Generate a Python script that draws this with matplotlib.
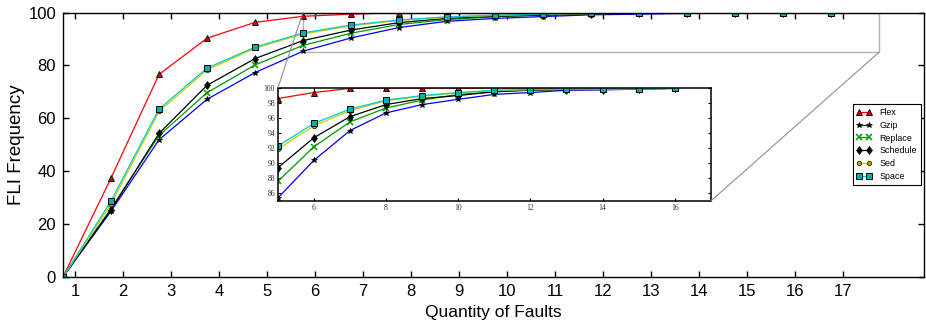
import matplotlib.pyplot as plt
import numpy as np
from matplotlib.patches import Rectangle, ConnectionPatch

plt.rcParams['font.family'] = ['Liberation Sans', 'DejaVu Sans']

# number of faults located (0..16) and FLI frequency per program
faults = np.arange(17)
tick_labels = [str(i) for i in range(1, 18)]

flex = [0, 37.4, 76.6, 90.3, 96.3, 98.6, 99.4, 99.95, 100, 100, 100, 100, 100, 100, 100, 100, 100]
gzip = [0, 24.9, 51.9, 67.2, 77.3, 85.4, 90.4, 94.35, 96.7, 97.8, 98.5, 99.15, 99.4, 99.7, 99.75, 99.85, 99.95]
replace = [0, 25.9, 53.5, 69.7, 80.2, 87.6, 92.2, 95.5, 97.35, 98.4, 99.15, 99.5, 99.75, 99.85, 99.85, 99.9, 99.95]
schedule = [0, 25.4, 54.3, 72.5, 82.6, 89.4, 93.4, 96.2, 97.8, 98.6, 99.0, 99.5, 99.7, 99.8, 99.8, 99.9, 99.95]
sed = [0, 27.5, 62.6, 78.3, 86.5, 91.9, 94.97, 97.0, 98.3, 98.9, 99.35, 99.65, 99.78, 99.85, 99.85, 99.9, 99.95]
space = [0, 28.7, 63.5, 79.0, 86.9, 92.3, 95.3, 97.2, 98.4, 99.0, 99.4, 99.7, 99.8, 99.85, 99.85, 99.9, 99.95]

series = [
    ('Flex', flex, dict(color='#ff0000', marker='^', mfc='#d00000', mec='black', ms=3.8, mew=0.6)),
    ('Gzip', gzip, dict(color='#0000ff', marker='*', mfc='black', mec='black', ms=4.2, mew=0.5)),
    ('Replace', replace, dict(color='#009a00', marker='x', mfc='#009a00', mec='#009a00', ms=3.8, mew=1.1)),
    ('Schedule', schedule, dict(color='black', marker='d', mfc='black', mec='black', ms=4.5, mew=0.4)),
    ('Sed', sed, dict(color='#cccc00', marker='o', mfc='#a8a800', mec='#333300', ms=3.2, mew=0.6)),
    ('Space', space, dict(color='#00cccc', marker='s', mfc='#00b0b0', mec='black', ms=4.0, mew=0.7)),
]

narrow = ['Liberation Sans Narrow', 'Liberation Sans', 'DejaVu Sans']

fig = plt.figure(figsize=(9.26, 3.31), dpi=100)
ax = fig.add_axes([0.068, 0.163, 0.93, 0.799])

for name, vals, style in series:
    ax.plot(faults, vals, label=name, lw=0.9, **style)

ax.set_xlim(0, 17.94)
ax.set_ylim(0, 100)
ax.set_xticks(faults + 0.25)
ax.set_xticklabels(tick_labels, family=narrow)
ax.set_yticks(np.arange(0, 101, 20))
ax.tick_params(direction='in', top=True, right=True, length=4, width=1, labelsize=12, pad=5)
ax.set_xlabel('Quantity of Faults', fontsize=12.5, family=narrow)
ax.set_ylabel('FLI Frequency', fontsize=13.5, labelpad=2)
for s in ax.spines.values():
    s.set_linewidth(1.0)

leg = ax.legend(loc='upper right', bbox_to_anchor=(0.9965, 0.654), borderaxespad=0,
                fontsize=6.4, numpoints=2, handlelength=1.7, handletextpad=0.9,
                labelspacing=0.42, borderpad=0.45, fancybox=False, framealpha=1)
leg.get_frame().set_edgecolor('black')
leg.get_frame().set_linewidth(0.8)

# zoomed view of the upper range
axins = fig.add_axes([0.300, 0.3927, 0.4676, 0.3414])
for name, vals, style in series:
    axins.plot(faults, vals, lw=0.9, **style)
axins.set_xlim(5, 17)
axins.set_ylim(85, 100)
axins.set_xticks(np.arange(6, 17, 2))
axins.set_yticks(np.arange(86, 101, 2))
axins.tick_params(direction='in', top=True, right=True, length=2.5, width=0.8,
                  labelsize=5.5, pad=2, labelcolor='#333333')
for lab in axins.get_xticklabels() + axins.get_yticklabels():
    lab.set_family(['Liberation Serif', 'DejaVu Serif'])
for s in axins.spines.values():
    s.set_linewidth(1.1)

ax.add_patch(Rectangle((5, 85), 12, 15, fill=False, ec='#b0b0b0', lw=1.0, zorder=1))
for xy_main, xy_ins in [((5, 100), (0, 1)), ((17, 85), (1, 0))]:
    con = ConnectionPatch(xyA=xy_main, coordsA=ax.transData, xyB=xy_ins,
                          coordsB=axins.transAxes, color='#909090', lw=0.8)
    fig.add_artist(con)

fig.savefig('out.png', dpi=100)
